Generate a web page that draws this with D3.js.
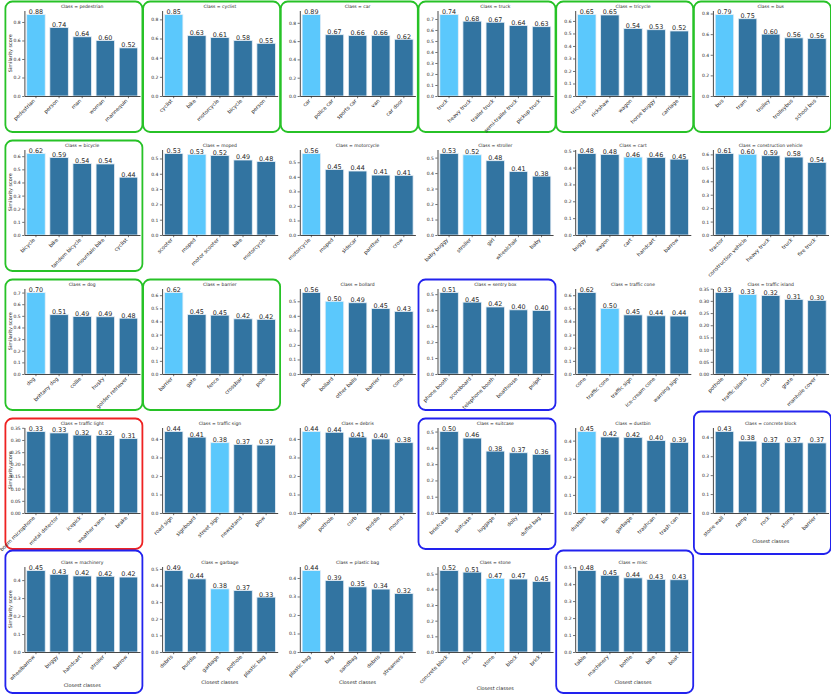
<!DOCTYPE html>
<html>
<head>
<meta charset="utf-8">
<script src="https://cdn.jsdelivr.net/npm/d3@7"></script>
<style>
  body { margin: 0; background: #fff; }
  text { font-family: "DejaVu Sans", sans-serif; fill: #262626; }
</style>
</head>
<body>
<svg id="chart"></svg>
<script>
// Panel titles (one panel per class)
var classNames = ["pedestrian", "cyclist", "car", "truck", "tricycle", "bus",
  "bicycle", "moped", "motorcycle", "stroller", "cart", "construction vehicle",
  "dog", "barrier", "bollard", "sentry box", "traffic cone", "traffic island",
  "traffic light", "traffic sign", "debris", "suitcase", "dustbin", "concrete block",
  "machinery", "garbage", "plastic bag", "stone", "misc"];

// 5 closest classes for each panel
var closest = [
  ["pedestrian", "person", "man", "woman", "mannequin"],
  ["cyclist", "bike", "motorcycle", "bicycle", "person"],
  ["car", "police car", "sports car", "van", "car door"],
  ["truck", "heavy truck", "trailer truck", "semi-trailer truck", "pickup truck"],
  ["tricycle", "rickshaw", "wagon", "horse buggy", "carriage"],
  ["bus", "tram", "trolley", "trolleybus", "school bus"],
  ["bicycle", "bike", "tandem bicycle", "mountain bike", "cyclist"],
  ["scooter", "moped", "motor scooter", "bike", "motorcycle"],
  ["motorcycle", "moped", "sidecar", "panther", "crow"],
  ["baby buggy", "stroller", "girl", "wheelchair", "baby"],
  ["buggy", "wagon", "cart", "handcart", "barrow"],
  ["tractor", "construction vehicle", "heavy truck", "truck", "fire truck"],
  ["dog", "brittany dog", "collie", "husky", "golden retriever"],
  ["barrier", "gate", "fence", "crossbar", "pole"],
  ["pole", "bollard", "other balls", "barrier", "cone"],
  ["phone booth", "scoreboard", "telephone booth", "boathouse", "pulpit"],
  ["cone", "traffic cone", "traffic sign", "ice-cream cone", "warning sign"],
  ["pothole", "traffic island", "curb", "grate", "manhole cover"],
  ["boom microphone", "metal detector", "icepick", "weather vane", "brake"],
  ["road sign", "signboard", "street sign", "newsstand", "plow"],
  ["debris", "pothole", "curb", "puddle", "mound"],
  ["briefcase", "suitcase", "luggage", "dolly", "duffel bag"],
  ["dustbin", "bin", "garbage", "trashcan", "trash can"],
  ["stone wall", "ramp", "rock", "stone", "barrier"],
  ["wheelbarrow", "buggy", "handcart", "stroller", "barrow"],
  ["debris", "puddle", "garbage", "pothole", "plastic bag"],
  ["plastic bag", "bag", "sandbag", "debris", "streamers"],
  ["concrete block", "rock", "stone", "block", "brick"],
  ["table", "machinery", "bottle", "bike", "boat"]
];

// similarity scores, same order as closest
var scores = [
  [0.88, 0.74, 0.64, 0.60, 0.52],
  [0.85, 0.63, 0.61, 0.58, 0.55],
  [0.89, 0.67, 0.66, 0.66, 0.62],
  [0.74, 0.68, 0.67, 0.64, 0.63],
  [0.651, 0.648, 0.54, 0.53, 0.52],
  [0.79, 0.75, 0.60, 0.564, 0.558],
  [0.62, 0.59, 0.544, 0.541, 0.44],
  [0.532, 0.527, 0.52, 0.49, 0.48],
  [0.56, 0.45, 0.44, 0.412, 0.41],
  [0.526, 0.518, 0.48, 0.41, 0.38],
  [0.483, 0.478, 0.462, 0.46, 0.45],
  [0.606, 0.601, 0.59, 0.58, 0.54],
  [0.70, 0.51, 0.494, 0.492, 0.48],
  [0.62, 0.452, 0.448, 0.42, 0.416],
  [0.56, 0.50, 0.49, 0.45, 0.43],
  [0.51, 0.45, 0.42, 0.402, 0.398],
  [0.62, 0.50, 0.45, 0.443, 0.441],
  [0.334, 0.326, 0.322, 0.306, 0.302],
  [0.3345, 0.329, 0.32, 0.318, 0.306],
  [0.44, 0.41, 0.38, 0.37, 0.367],
  [0.44, 0.436, 0.41, 0.40, 0.38],
  [0.50, 0.46, 0.38, 0.37, 0.36],
  [0.45, 0.42, 0.418, 0.40, 0.39],
  [0.43, 0.38, 0.372, 0.371, 0.37],
  [0.453, 0.432, 0.423, 0.421, 0.417],
  [0.49, 0.44, 0.38, 0.37, 0.33],
  [0.44, 0.386, 0.352, 0.34, 0.316],
  [0.52, 0.51, 0.47, 0.466, 0.45],
  [0.48, 0.452, 0.437, 0.428, 0.426]
];

// index of the bar that is the class itself (-1 = not highlighted)
var highlight = [0, 0, 0, 0, 0, 0,
  0, 1, 0, 1, 2, 1,
  0, 0, 1, -1, 1, 1,
  -1, 2, 0, -1, 0, -1,
  -1, 2, 0, 2, -1];

// y tick step for each panel
var tickStep = [0.2, 0.2, 0.2, 0.1, 0.1, 0.2,
  0.1, 0.1, 0.1, 0.1, 0.1, 0.1,
  0.1, 0.1, 0.1, 0.1, 0.1, 0.05,
  0.05, 0.1, 0.1, 0.1, 0.1, 0.1,
  0.1, 0.1, 0.1, 0.1, 0.1];

// outline around some panels
var frameColor = ["g", "g", "g", "g", "g", "g",
  "g", null, null, null, null, null,
  "g", "g", null, "b", null, null,
  "r", null, null, "b", null, "b",
  "b", null, null, null, "b"];

var frameColors = { g: "#27c227", b: "#2222ee", r: "#ee2222" };
var darkBar = "#3274a1";
var lightBar = "#5bc8fc";

var svgWidth = 831;
var svgHeight = 697;

var ncol = 6;
var colLeft = 24.4, colStep = 137.7, axW = 115.6;
var rowBase = 96, rowStep = 139, axH = 85.5;

var svg = d3.select("#chart")
  .attr("width", svgWidth)
  .attr("height", svgHeight);

classNames.forEach(function(name, i) {
  var col = i % ncol;
  var row = Math.floor(i / ncol);
  var left = colLeft + col * colStep;
  var top = rowBase + row * rowStep - axH;
  var vals = scores[i];
  var hasXLabel = i + ncol >= classNames.length;

  // frame first so it sits behind
  if (frameColor[i]) {
    var fy0 = hasXLabel ? top - 16 : top - 9;
    var fy1 = hasXLabel ? top + axH + 41 : top + axH + 36;
    svg.append("rect")
      .attr("x", left - 19)
      .attr("y", fy0)
      .attr("width", 137)
      .attr("height", fy1 - fy0)
      .attr("rx", 7)
      .attr("fill", "none")
      .attr("stroke", frameColors[frameColor[i]])
      .attr("stroke-width", 1.8);
  }

  var g = svg.append("g")
    .attr("transform", `translate(${left}, ${top})`);

  var x = d3.scaleBand()
    .domain(d3.range(vals.length))
    .range([0, axW])
    .paddingInner(0.2)
    .paddingOuter(0.1);

  var ymax = d3.max(vals) * 1.05;
  var y = d3.scaleLinear()
    .domain([0, ymax])
    .range([axH, 0]);

  // bars
  g.selectAll("rect.bar")
    .data(vals)
    .enter()
    .append("rect")
    .attr("class", "bar")
    .attr("x", (d, j) => x(j))
    .attr("y", d => y(d))
    .attr("width", x.bandwidth())
    .attr("height", d => axH - y(d))
    .attr("fill", (d, j) => j === highlight[i] ? lightBar : darkBar)
    .attr("stroke", "#e6eef6")
    .attr("stroke-width", 0.8);

  // value labels
  g.selectAll("text.val")
    .data(vals)
    .enter()
    .append("text")
    .attr("class", "val")
    .attr("x", (d, j) => x(j) + x.bandwidth() / 2)
    .attr("y", d => y(d) - 0.6)
    .attr("text-anchor", "middle")
    .attr("font-size", 6.4)
    .text(d => d3.format(".2f")(d));

  // y axis
  var step = tickStep[i];
  var ticks = d3.range(0, ymax + 1e-9, step);
  var leftAxis = d3.axisLeft(y)
    .tickValues(ticks)
    .tickSize(2.2)
    .tickSizeOuter(0)
    .tickPadding(1.5)
    .tickFormat(d3.format(step < 0.1 ? ".2f" : ".1f"));

  var yAxis = g.append("g").call(leftAxis)
    .attr("font-size", 4.5)
    .attr("font-family", null);
  yAxis.selectAll("line").attr("stroke", "#333").attr("stroke-width", 0.7);
  yAxis.select(".domain").attr("stroke", "#333").attr("stroke-width", 0.9);

  // x axis
  var bottomAxis = d3.axisBottom(x)
    .tickSize(2.2)
    .tickSizeOuter(0)
    .tickFormat(j => closest[i][j]);

  var xAxis = g.append("g")
    .attr("transform", `translate(0, ${axH})`)
    .call(bottomAxis)
    .attr("font-size", 5.2)
    .attr("font-family", null);
  xAxis.selectAll("line").attr("stroke", "#333").attr("stroke-width", 0.7);
  xAxis.select(".domain").attr("stroke", "#333").attr("stroke-width", 0.9);
  xAxis.selectAll("text")
    .attr("x", 0)
    .attr("y", 0)
    .attr("dy", 0)
    .attr("text-anchor", "end")
    .attr("transform", "translate(-0.6, 5.2) rotate(-45)");

  // title
  g.append("text")
    .attr("x", axW / 2)
    .attr("y", -2.6)
    .attr("text-anchor", "middle")
    .attr("font-size", 4.5)
    .text("Class = " + name);

  if (col === 0) {
    g.append("text")
      .attr("transform", `translate(-12.5, ${axH / 2}) rotate(-90)`)
      .attr("text-anchor", "middle")
      .attr("font-size", 4.9)
      .text("Similarity score");
  }

  if (hasXLabel) {
    var bb = xAxis.node().getBBox();
    g.append("text")
      .attr("x", axW / 2)
      .attr("y", axH + bb.y + bb.height + 5.5)
      .attr("text-anchor", "middle")
      .attr("font-size", 4.9)
      .text("Closest classes");
  }
});
</script>
</body>
</html>
